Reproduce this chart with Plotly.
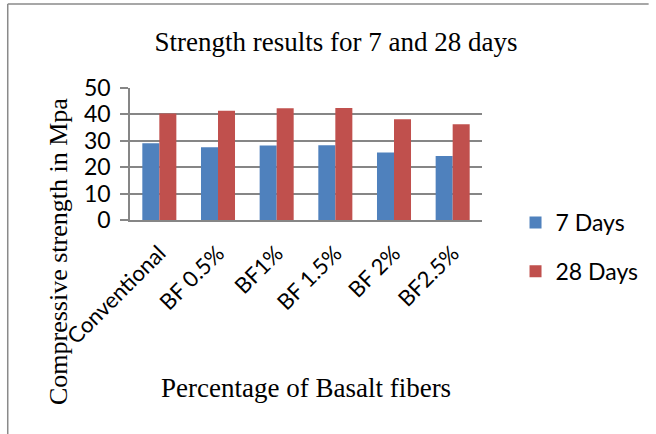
import plotly.graph_objects as go

categories = ["Conventional", "BF 0.5%", "BF1%", "BF 1.5%", "BF 2%", "BF2.5%"]
days7 = [29.1, 27.6, 28.2, 28.3, 25.6, 24.2]
days28 = [40.3, 41.4, 42.3, 42.4, 38.2, 36.3]
series_names = ["7 Days", "28 Days"]
y_ticks = [0, 10, 20, 30, 40, 50]

W, H = 656, 434
L, R, T, B = 130, 487, 88, 220
pw, ph = R - L, B - T

def px_x(x):
    return (x - L) / pw

def px_y(y):
    return (B - y) / ph

fig = go.Figure()
fig.add_trace(go.Bar(x=categories, y=days7, name=series_names[0], marker_color="#4F81BD",
                     marker_line_width=0, legendgroup="a"))
fig.add_trace(go.Bar(x=categories, y=days28, name=series_names[1], marker_color="#C0504D",
                     marker_line_width=0, legendgroup="b"))

grid = "#868686"
fig.update_layout(
    width=W, height=H,
    margin=dict(l=L, r=W - R, t=T, b=H - B, pad=0),
    paper_bgcolor="white", plot_bgcolor="white",
    barmode="group", bargap=0.42, bargroupgap=0,
    title=dict(text="Strength results for 7 and 28 days", x=336 / W, xanchor="center",
               y=1 - 42 / H, yanchor="middle",
               font=dict(family="Liberation Serif", size=27, color="black")),
    showlegend=True,
    legend=dict(x=px_x(521), xanchor="left", y=px_y(201), yanchor="top",
                font=dict(family="Lato", size=23, color="black"),
                tracegroupgap=16, traceorder="grouped", itemwidth=30,
                bgcolor="rgba(0,0,0,0)"),
    xaxis=dict(tickangle=-45, tickfont=dict(family="Lato", size=22, color="black"),
               showline=True, linecolor=grid, linewidth=1.5, showgrid=False,
               ticks="", ticklabelstandoff=10),
    yaxis=dict(range=[0, 50], tickvals=y_ticks, showgrid=True, gridcolor=grid, gridwidth=1.5,
               showline=True, linecolor=grid, linewidth=1.5,
               ticks="outside", ticklen=8, tickcolor=grid, tickwidth=1.5,
               tickfont=dict(family="Lato", size=23, color="black"),
               ticklabelstandoff=5, zeroline=False),
    annotations=[
        dict(text="Compressive strength in Mpa", x=px_x(57), y=px_y(252), xref="paper", yref="paper",
             textangle=-90, showarrow=False, xanchor="center", yanchor="middle",
             font=dict(family="Liberation Serif", size=26, color="black")),
        dict(text="Percentage of Basalt fibers", x=px_x(308), y=px_y(388), xref="paper", yref="paper",
             showarrow=False, xanchor="center", yanchor="middle",
             font=dict(family="Liberation Serif", size=27, color="black")),
    ],
    shapes=[
        dict(type="line", xref="paper", yref="paper", x0=px_x(6), x1=px_x(6), y0=px_y(4), y1=px_y(434),
             line=dict(color="#8a8a8a", width=1.5)),
        dict(type="line", xref="paper", yref="paper", x0=px_x(6), x1=px_x(656), y0=px_y(4), y1=px_y(4),
             line=dict(color="#8a8a8a", width=1.5)),
    ],
)

fig.write_html("out.html")
